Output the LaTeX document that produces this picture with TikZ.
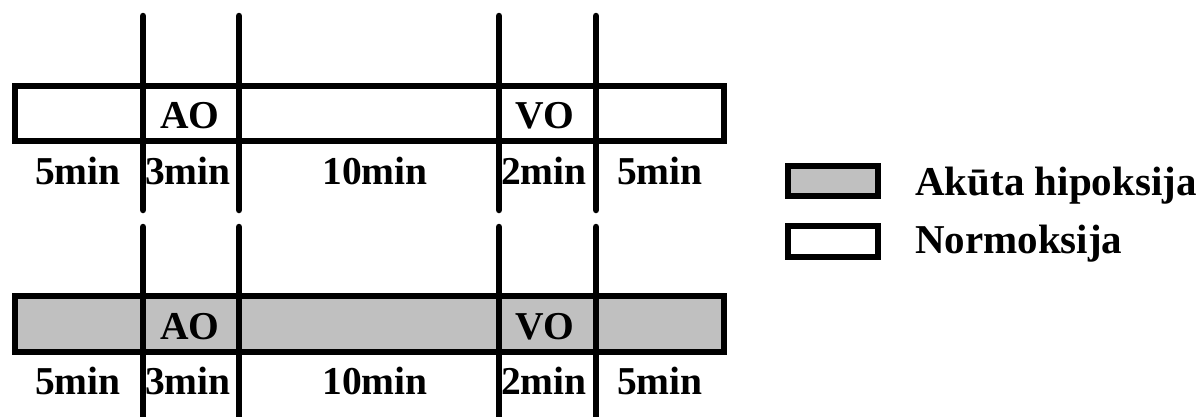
\documentclass[tikz,border=0pt]{standalone}
\usepackage{fontspec}
\setmainfont{Liberation Serif}
\definecolor{hypo}{HTML}{C0C0C0}
\begin{document}
\begin{tikzpicture}[x=1pt,y=-1pt,
  bar/.style={draw=black,line width=6.5pt},
  tick/.style={draw=black,line width=6.5pt,line cap=round},
  lbl/.style={anchor=base,inner sep=0pt,font=\fontsize{39.5}{42}\selectfont\bfseries},
  leg/.style={anchor=base west,inner sep=0pt,font=\fontsize{41}{44}\selectfont\bfseries}]
\useasboundingbox (0,0) rectangle (1199,416);
\clip (0,0) rectangle (1199,416);
% top bar (normoxia)
\draw[bar,fill=white] (15,86) rectangle (724,141);
\foreach \x in {143,239,499,596} \draw[tick] (\x,16) -- (\x,210);
% bottom bar (hypoxia)
\draw[bar,fill=hypo] (15,296) rectangle (724,352);
\foreach \x in {143,239,499,596} \draw[tick] (\x,227) -- (\x,430);
% texts top
\node[lbl] (ao1) at (190,128) {AO};
\node[lbl] (vo1) at (545,128) {VO};
\node[lbl] (t1a) at (78,184) {5min};
\node[lbl] (t1b) at (188,184) {3min};
\node[lbl] (t1c) at (375,184) {10min};
\node[lbl] (t1d) at (544,184) {2min};
\node[lbl] (t1e) at (660,184) {5min};
% texts bottom
\node[lbl] (ao2) at (190,339) {AO};
\node[lbl] (vo2) at (545,339) {VO};
\node[lbl] (t2a) at (78,394) {5min};
\node[lbl] (t2b) at (188,394) {3min};
\node[lbl] (t2c) at (375,394) {10min};
\node[lbl] (t2d) at (544,394) {2min};
\node[lbl] (t2e) at (660,394) {5min};
% legend
\draw[bar,fill=hypo] (788,166) rectangle (878,196);
\draw[bar,fill=white] (788,226) rectangle (878,257);
\node[leg] (la) at (915,195) {Akūta hipoksija};
\node[leg] (lb) at (915,253) {Normoksija};
\end{tikzpicture}
\end{document}
